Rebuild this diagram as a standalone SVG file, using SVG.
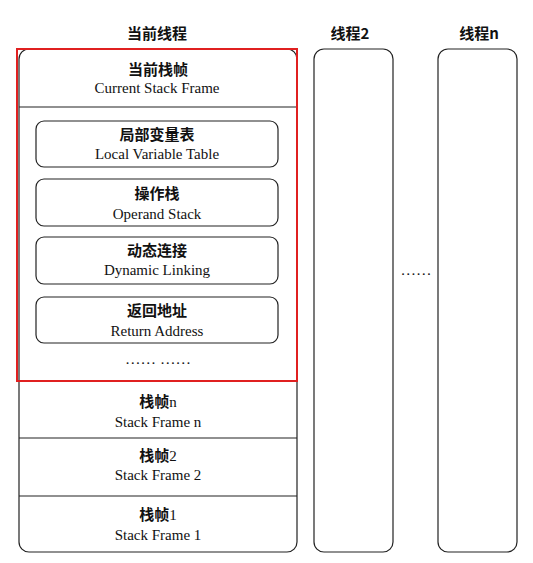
<svg xmlns="http://www.w3.org/2000/svg" width="533" height="563" viewBox="0 0 533 563">
<style>
.box{fill:none;stroke:#222;stroke-width:1.2}
.zh{font-family:"Noto Sans CJK SC","Noto Sans CJK JP",sans-serif;font-weight:bold;font-size:15px;fill:#111;text-anchor:middle}
.num{font-family:"Liberation Serif",serif;font-weight:normal}
.en{font-family:"Liberation Serif",serif;font-size:15px;fill:#111;text-anchor:middle}
.dots{font-family:"Liberation Serif",serif;font-size:15.5px;fill:#111;text-anchor:middle}
</style>
<rect width="533" height="563" fill="#fff"/>
<g id="title-current"><text class="zh" x="157" y="39">当前线程</text></g>
<g id="title-t2"><text class="zh" x="350" y="39">线程2</text></g>
<g id="title-tn"><text class="zh" x="479" y="39">线程n</text></g>

<g id="thread-current">
<rect class="box" x="19" y="49" width="278" height="503" rx="10"/>
</g>
<g id="current-frame">
<line class="box" x1="19" y1="107" x2="297" y2="107"/>
<text class="zh" x="158" y="75">当前栈帧</text>
<text class="en" x="157" y="93">Current Stack Frame</text>
</g>
<g id="local-var">
<rect class="box" x="36" y="121" width="242" height="46" rx="8"/>
<text class="zh" x="157" y="140">局部变量表</text>
<text class="en" x="157" y="159">Local Variable Table</text>
</g>
<g id="operand">
<rect class="box" x="36" y="179" width="242" height="47" rx="8"/>
<text class="zh" x="157" y="199">操作栈</text>
<text class="en" x="157" y="219">Operand Stack</text>
</g>
<g id="dynamic">
<rect class="box" x="36" y="237" width="242" height="47" rx="8"/>
<text class="zh" x="157" y="256">动态连接</text>
<text class="en" x="157" y="275">Dynamic Linking</text>
</g>
<g id="return">
<rect class="box" x="36" y="297" width="242" height="46" rx="8"/>
<text class="zh" x="157" y="316">返回地址</text>
<text class="en" x="157" y="336">Return Address</text>
</g>
<g id="more"><text class="dots" x="158" y="364">…… ……</text></g>
<g id="highlight">
<rect x="17" y="49" width="280" height="332" fill="none" stroke="#e02020" stroke-width="2"/>
</g>
<g id="frame-n">
<text class="zh" x="158" y="407">栈帧<tspan class="num">n</tspan></text>
<text class="en" x="158" y="427">Stack Frame n</text>
</g>
<g id="frame-2">
<line class="box" x1="19" y1="438" x2="297" y2="438"/>
<text class="zh" x="158" y="461">栈帧<tspan class="num">2</tspan></text>
<text class="en" x="158" y="480">Stack Frame 2</text>
</g>
<g id="frame-1">
<line class="box" x1="19" y1="496" x2="297" y2="496"/>
<text class="zh" x="158" y="520">栈帧<tspan class="num">1</tspan></text>
<text class="en" x="158" y="540">Stack Frame 1</text>
</g>
<g id="thread-2"><rect class="box" x="314" y="49" width="79" height="503" rx="10"/></g>
<g id="thread-n"><rect class="box" x="438" y="49" width="79" height="503" rx="10"/></g>
<g id="connectors"><text class="dots" x="416" y="275">……</text></g>
</svg>
